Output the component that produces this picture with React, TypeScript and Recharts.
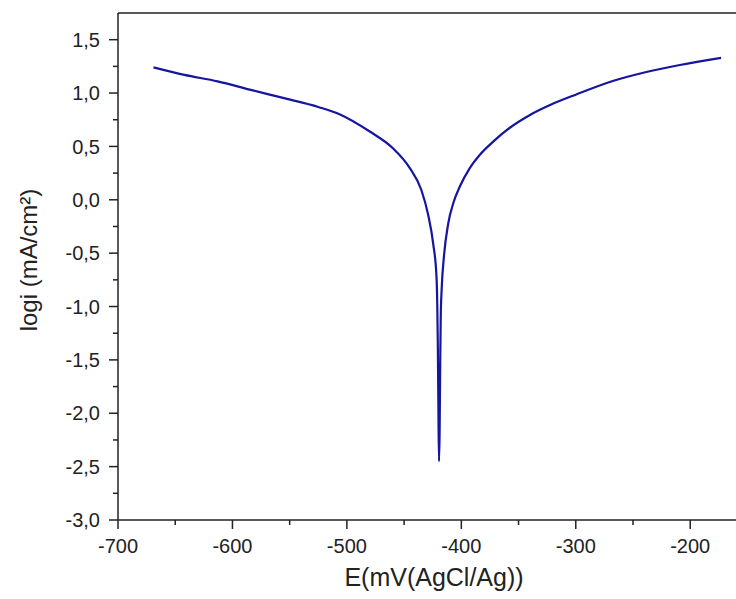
import { LineChart, Line, XAxis, YAxis, ReferenceLine } from "recharts"

// Tafel polarization curve
const potential = [
  -669, -642, -613, -584, -554, -525, -506, -480, -460, -445, -435, -429, -424.6, -421.7,
  -421, -420.5, -420, -419.5, -419, -418.5, -418, -417.2, -415.2, -411.4, -407, -401.3,
  -392.6, -383.8, -372.2, -357.6, -340, -322, -300, -267, -241, -209, -173,
]
const logI = [
  1.24, 1.17, 1.11, 1.03, 0.95, 0.87, 0.8, 0.64, 0.485, 0.297, 0.094, -0.14, -0.41, -0.72,
  -1.0, -1.4, -2.0, -2.45, -2.2, -1.6, -1.1, -0.84, -0.53, -0.22, -0.03, 0.125,
  0.297, 0.422, 0.545, 0.675, 0.795, 0.89, 0.985, 1.115, 1.19, 1.263, 1.33,
]

const xTicks = [-700, -650, -600, -550, -500, -450, -400, -350, -300, -250, -200]
const yTicks = [-3, -2.75, -2.5, -2.25, -2, -1.75, -1.5, -1.25, -1, -0.75, -0.5, -0.25, 0, 0.25, 0.5, 0.75, 1, 1.25, 1.5]

const xDomain = [-700, -160]
const yDomain = [-3, 1.75]

const FONT = "'Liberation Sans', Arial, sans-serif"
const INK = "#222"

const data = potential.map((e, i) => ({ e, logi: logI[i] }))

const isMajor = (v: number, step: number) => Math.abs(v / step - Math.round(v / step)) < 1e-9

function XTick({ x, y, payload }: any) {
  const major = isMajor(payload.value, 100)
  return (
    <g>
      <line x1={x} x2={x} y1={y} y2={y + (major ? 9 : 5)} stroke={INK} strokeWidth={1.5} />
      {major && (
        <text x={x} y={y + 33} textAnchor="middle" fontSize={20} fill={INK} fontFamily={FONT}>
          {payload.value}
        </text>
      )}
    </g>
  )
}

function YTick({ x, y, payload }: any) {
  const major = isMajor(payload.value, 0.5)
  return (
    <g>
      <line x1={x - (major ? 9 : 5)} x2={x} y1={y} y2={y} stroke={INK} strokeWidth={1.5} />
      {major && (
        <text x={x - 18} y={y} dy="0.36em" textAnchor="end" fontSize={20} fill={INK} fontFamily={FONT}>
          {payload.value.toFixed(1).replace(".", ",")}
        </text>
      )}
    </g>
  )
}

export default function App() {
  return (
    <div style={{ position: "absolute", left: 0, top: 0, background: "#fff" }}>
      <LineChart width={736} height={599} data={data} margin={{ top: 13, right: 0, bottom: 0, left: 0 }}>
        <XAxis
          dataKey="e"
          type="number"
          domain={xDomain}
          ticks={xTicks}
          interval={0}
          height={79}
          tickSize={0}
          tickMargin={0}
          tickLine={false}
          tick={<XTick />}
          axisLine={{ stroke: INK, strokeWidth: 1.5 }}
          label={{
            content: () => (
              <text x={434} y={586} textAnchor="middle" fontSize={25} fill={INK} fontFamily={FONT}>
                E(mV(AgCl/Ag))
              </text>
            ),
          }}
        />
        <YAxis
          type="number"
          domain={yDomain}
          ticks={yTicks}
          interval={0}
          width={118}
          tickSize={0}
          tickMargin={0}
          tickLine={false}
          tick={<YTick />}
          axisLine={{ stroke: INK, strokeWidth: 1.5 }}
          label={{
            content: () => (
              <text
                x={28}
                y={260}
                transform="rotate(-90 28 260)"
                textAnchor="middle"
                dominantBaseline="central"
                fontSize={24}
                fill={INK}
                fontFamily={FONT}
              >
                logi (mA/cm²)
              </text>
            ),
          }}
        />
        <ReferenceLine y={yDomain[1]} stroke={INK} strokeWidth={1.5} />
        <Line
          type="monotone"
          dataKey="logi"
          stroke="#15159f"
          strokeWidth={2.2}
          dot={false}
          isAnimationActive={false}
        />
      </LineChart>
    </div>
  )
}
